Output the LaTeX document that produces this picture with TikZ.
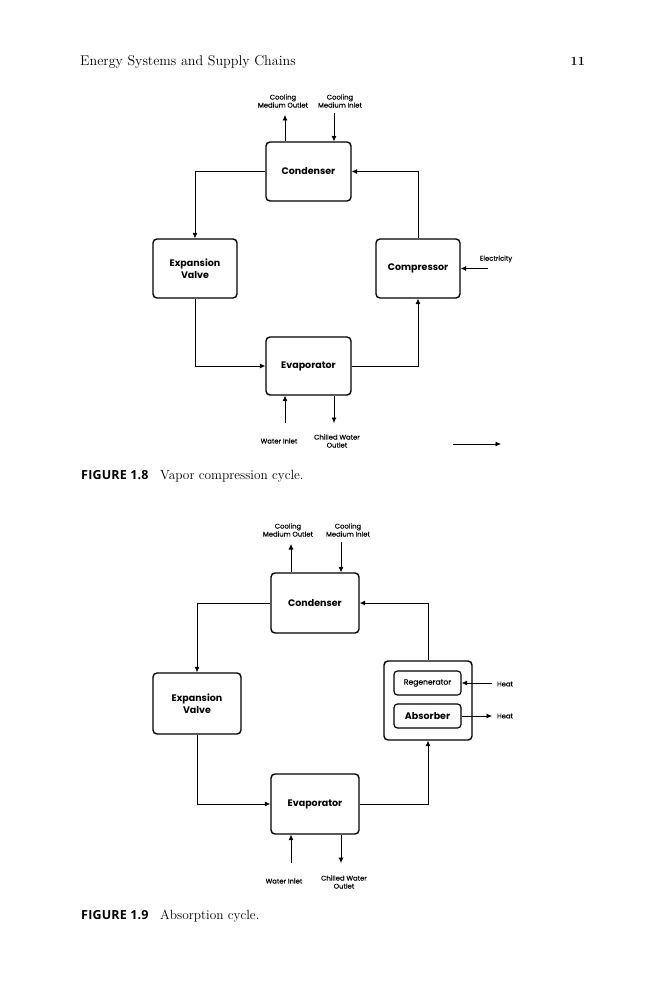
\documentclass[tikz,border=0pt]{standalone}
\usepackage{fontspec}
\usetikzlibrary{arrows.meta}
\newfontfamily\diagfont{Poppins}
\newfontfamily\lblfont[FakeBold=0.35]{Poppins}
\newfontfamily\capfont[LetterSpace=1.5]{Open Sans}
\begin{document}
\begin{tikzpicture}[x=1pt,y=-1pt,
    box/.style={draw,line width=1.4pt,rounded corners=4pt,inner sep=0pt,
      align=center,font=\diagfont\bfseries\fontsize{9.5}{12}\selectfont},
    inbox/.style={box,line width=1.2pt,rounded corners=3.5pt,minimum width=67,minimum height=24},
    flow/.style={line width=0.7pt,-{Latex[length=5.5pt,width=5pt]}},
    lbl/.style={inner sep=0pt,align=center,font=\lblfont\fontsize{6.8}{8}\selectfont},
    captag/.style={anchor=base west,inner sep=0pt,font=\capfont\bfseries\fontsize{12.5}{14}\selectfont},
    captxt/.style={anchor=base west,inner sep=0pt,font=\fontsize{13.3}{15}\selectfont}]
  \useasboundingbox[fill=white] (0,0) rectangle (666,1000);
  % Header
  \node[anchor=base west,inner sep=0pt,font=\fontsize{14.1}{16}\selectfont] (head) at (80,66) {Energy Systems and Supply Chains};
  \node[anchor=base east,inner sep=0pt,font=\bfseries\fontsize{12.5}{16}\selectfont] (pageno) at (585,66) {11};

  % Figure 1.8: blocks
  \node[box,minimum width=85,minimum height=59] (cond) at (308.5,171.5) {Condenser};
  \node[box,minimum width=84,minimum height=59] (expv) at (195,268.5) {Expansion\\Valve};
  \node[box,minimum width=84,minimum height=59] (comp) at (418,268.5) {Compressor};
  \node[box,minimum width=85,minimum height=58] (evap) at (308.5,366) {Evaporator};
  % Figure 1.8: cycle
  \draw[flow] (cond.west) -| (expv.north);
  \draw[flow] (expv.south) |- (evap.west);
  \draw[flow] (evap.east) -| (comp.south);
  \draw[flow] (comp.north) |- (cond.east);
  % Figure 1.8: streams
  \coordinate (cmo) at (285,115);
  \coordinate (cmi) at (334,113);
  \coordinate (elec) at (488,268.5);
  \coordinate (wi) at (285,423);
  \coordinate (cwo) at (334,423);
  \draw[flow] (cond.north -| cmo) -- (cmo);
  \draw[flow] (cmi) -- (cond.north -| cmi);
  \draw[flow] (elec) -- (comp.east);
  \draw[flow] (wi) -- (evap.south -| wi);
  \draw[flow] (evap.south -| cwo) -- (cwo);
  \node[lbl] (cmoLab) at (283,101) {Cooling\\Medium Outlet};
  \node[lbl] (cmiLab) at (340,101) {Cooling\\Medium Inlet};
  \node[lbl] (elecLab) at (496,259) {Electricity};
  \node[lbl] (wiLab) at (279,441) {Water Inlet};
  \node[lbl] (cwoLab) at (337,441) {Chilled Water\\Outlet};
  \coordinate (keyA) at (453,444);
  \coordinate (keyB) at (501,444);
  \draw[flow] (keyA) -- (keyB);
  % Caption 1.8
  \node[captag] (tagA) at (81,479) {FIGURE 1.8};
  \node[captxt] (capA) at (160,479) {Vapor compression cycle.};

  % Figure 1.9: blocks
  \node[box,minimum width=88,minimum height=60] (condB) at (315,603) {Condenser};
  \node[box,minimum width=88,minimum height=61] (expvB) at (197,703.5) {Expansion\\Valve};
  \node[box,minimum width=88,minimum height=79] (absu) at (428,700.5) {};
  \node[inbox,font=\lblfont\fontsize{7.6}{9}\selectfont] (regen) at (427.5,683) {Regenerator};
  \node[inbox] (absb) at (427.5,716) {Absorber};
  \node[box,minimum width=88,minimum height=60] (evapB) at (315,804) {Evaporator};
  % Figure 1.9: cycle
  \draw[flow] (condB.west) -| (expvB.north);
  \draw[flow] (expvB.south) |- (evapB.west);
  \draw[flow] (evapB.east) -| (absu.south);
  \draw[flow] (absu.north) |- (condB.east);
  % Figure 1.9: streams
  \coordinate (cmoB) at (291,544);
  \coordinate (cmiB) at (341,542);
  \coordinate (heatin) at (492,683);
  \coordinate (heatout) at (492,716);
  \coordinate (wiB) at (291,863);
  \coordinate (cwoB) at (341,863);
  \draw[flow] (condB.north -| cmoB) -- (cmoB);
  \draw[flow] (cmiB) -- (condB.north -| cmiB);
  \draw[flow] (heatin) -- (regen.east);
  \draw[flow] (absb.east) -- (heatout);
  \draw[flow] (wiB) -- (evapB.south -| wiB);
  \draw[flow] (evapB.south -| cwoB) -- (cwoB);
  \node[lbl] (cmoLabB) at (288,530) {Cooling\\Medium Outlet};
  \node[lbl] (cmiLabB) at (348,530) {Cooling\\Medium Inlet};
  \node[lbl] (heatinLab) at (505,684) {Heat};
  \node[lbl] (heatoutLab) at (505,716) {Heat};
  \node[lbl] (wiLabB) at (284,881) {Water Inlet};
  \node[lbl] (cwoLabB) at (344,882) {Chilled Water\\Outlet};
  % Caption 1.9
  \node[captag] (tagB) at (81,919) {FIGURE 1.9};
  \node[captxt] (capB) at (160,919) {Absorption cycle.};
\end{tikzpicture}
\end{document}
